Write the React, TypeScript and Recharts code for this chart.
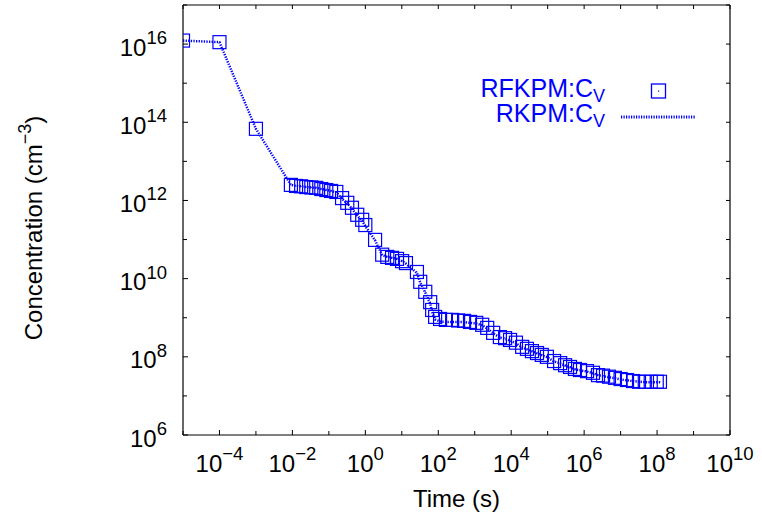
import React from "react"
import {
  ComposedChart,
  Scatter,
  Line,
  XAxis,
  YAxis,
  Legend,
} from "recharts"

const FONT = "'Liberation Sans', Arial, Helvetica, sans-serif"
const BLUE = "#0000ff"

// time steps (s) of the RFKPM / RKPM runs
const times = [
  1e-5, 1e-4, 1e-3, 9.1e-3, 1.26e-2, 1.74e-2, 2.4e-2, 3.3e-2, 4.5e-2, 6.2e-2,
  8.5e-2, 0.115, 0.16, 0.23, 0.32, 0.43, 0.6, 0.82, 1.0, 1.85,
  2.9, 4.0, 5.4, 7.4, 10.2, 13, 26, 32, 44, 60,
  68, 82, 112, 162, 240, 350, 510, 740, 1.1e3, 1.6e3,
  2.2e3, 3.2e3, 4.9e3, 6.8e3, 9.3e3, 1.35e4, 2.0e4, 2.7e4, 3.7e4, 5.1e4,
  6.9e4, 9.5e4, 1.5e5, 2.2e5, 3e5, 4.1e5, 5.6e5, 7.7e5, 1.2e6, 1.75e6,
  2.4e6, 3.3e6, 4.8e6, 7e6, 1.0e7, 1.5e7, 2.2e7, 3.2e7, 4.6e7, 6.7e7,
  9.8e7, 1.2e8,
]

// RFKPM:C_V (squares)
const rfkpmCv = [
  1.23e16, 1.12e16, 6.8e13, 2.5e12, 2.35e12, 2.3e12, 2.2e12, 2.15e12, 2.1e12, 1.96e12,
  1.85e12, 1.75e12, 1.65e12, 1.15e12, 8.7e11, 6.5e11, 4.3e11, 3.2e11, 2.35e11, 9.8e10,
  4.1e10, 3.6e10, 3.4e10, 3.2e10, 2.8e10, 2.5e10, 1.48e10, 8.3e9, 4.6e9, 2.5e9,
  1.58e9, 1.05e9, 9.3e8, 8.8e8, 8.8e8, 8.5e8, 8.3e8, 7.8e8, 7.4e8, 6.6e8,
  5.5e8, 4.1e8, 3.2e8, 3.0e8, 2.7e8, 2.3e8, 1.8e8, 1.6e8, 1.4e8, 1.25e8,
  1.12e8, 1.0e8, 7.8e7, 6.9e7, 6.1e7, 5.5e7, 4.9e7, 4.6e7, 4.3e7, 3.9e7,
  3.4e7, 3.3e7, 3.1e7, 2.9e7, 2.7e7, 2.55e7, 2.4e7, 2.3e7, 2.3e7, 2.3e7,
  2.3e7, 2.3e7,
]

// RKPM:C_V (dotted line)
const rkpmCv = [
  1.23e16, 1.12e16, 6.8e13, 2.5e12, 2.35e12, 2.3e12, 2.2e12, 2.15e12, 2.1e12, 1.96e12,
  1.85e12, 1.75e12, 1.6e12, 1.1e12, 8.3e11, 6.2e11, 4.1e11, 3.0e11, 2.2e11, 9.5e10,
  4.0e10, 3.6e10, 3.4e10, 3.2e10, 2.8e10, 2.4e10, 1.4e10, 8.0e9, 4.4e9, 2.3e9,
  1.4e9, 9.0e8, 8.0e8, 7.8e8, 7.8e8, 7.8e8, 7.7e8, 7.4e8, 7.1e8, 6.4e8,
  5.3e8, 4.0e8, 3.1e8, 2.9e8, 2.6e8, 2.2e8, 1.75e8, 1.55e8, 1.38e8, 1.22e8,
  1.1e8, 9.8e7, 7.6e7, 6.8e7, 6.0e7, 5.4e7, 4.8e7, 4.5e7, 4.2e7, 3.8e7,
  3.4e7, 3.2e7, 3.0e7, 2.85e7, 2.65e7, 2.5e7, 2.4e7, 2.3e7, 2.25e7, 2.25e7,
  2.25e7, 2.25e7,
]

const xTicks = [1e-5, 1e-4, 1e-3, 1e-2, 1e-1, 1, 10, 1e2, 1e3, 1e4, 1e5, 1e6, 1e7, 1e8, 1e9, 1e10]
const yTicks = [1e6, 1e7, 1e8, 1e9, 1e10, 1e11, 1e12, 1e13, 1e14, 1e15, 1e16, 1e17]

const rows = times.map((t, i) => ({ t, rf: rfkpmCv[i], rk: rkpmCv[i] }))

const expOf = (v: number) => Math.round(Math.log10(v))
const expText = (e: number) => (e < 0 ? `\u2212${-e}` : `${e}`)
const labelled = (e: number) => e % 2 === 0

function BottomTick(props: any) {
  const { x, y, payload } = props
  const e = expOf(payload.value)
  const showLabel = labelled(e) && e > -5
  return (
    <g>
      <line x1={x} y1={y} x2={x} y2={y - (showLabel ? 5 : 4)} stroke="#000" strokeWidth={1} />
      {showLabel && (
        <text x={x} y={y + 37} textAnchor="middle" fontFamily={FONT} fontSize={24} fill="#000">
          10
          <tspan fontSize={18.5} dy={-12}>{expText(e)}</tspan>
        </text>
      )}
    </g>
  )
}

function LeftTick(props: any) {
  const { x, y, payload } = props
  const e = expOf(payload.value)
  const showLabel = labelled(e) && e < 17
  return (
    <g>
      <line x1={x} y1={y} x2={x + (showLabel ? 5 : 4)} y2={y} stroke="#000" strokeWidth={1} />
      {showLabel && (
        <text x={x - 16} y={y + 11.5} textAnchor="end" fontFamily={FONT} fontSize={24} fill="#000">
          10
          <tspan fontSize={18.5} dy={-11.5}>{expText(e)}</tspan>
        </text>
      )}
    </g>
  )
}

function TopTick(props: any) {
  const { x, y } = props
  return <line x1={x} y1={y} x2={x} y2={y + 4} stroke="#000" strokeWidth={1} />
}

function RightTick(props: any) {
  const { x, y } = props
  return <line x1={x} y1={y} x2={x - 4} y2={y} stroke="#000" strokeWidth={1} />
}

function Square(props: any) {
  const { cx, cy } = props
  if (cx == null || cy == null) return null
  return (
    <g>
      <rect x={cx - 6.5} y={cy - 6.5} width={13} height={13} fill="none" stroke={BLUE} strokeWidth={1.2} />
      <rect x={cx - 0.5} y={cy - 0.5} width={1} height={1} fill={BLUE} />
    </g>
  )
}

function LegendBox() {
  return (
    <svg width={762} height={140} style={{ display: "block" }}>
      <text x={605} y={97} textAnchor="end" fontFamily={FONT} fontSize={25} fill={BLUE}>
        RFKPM:C
        <tspan fontSize={18} dy={5}>V</tspan>
      </text>
      <rect x={651.5} y={84} width={14} height={14} fill="none" stroke={BLUE} strokeWidth={1.3} />
      <rect x={658} y={90.5} width={1.2} height={1.2} fill={BLUE} />
      <text x={605} y={122} textAnchor="end" fontFamily={FONT} fontSize={25} fill={BLUE}>
        RKPM:C
        <tspan fontSize={18} dy={5}>V</tspan>
      </text>
      <line x1={621} y1={117} x2={696} y2={117} stroke={BLUE} strokeWidth={3} strokeDasharray="1.2 1.3" />
    </svg>
  )
}

function YTitle(props: any) {
  const { viewBox } = props
  const cy = viewBox ? viewBox.y + viewBox.height / 2 + 8 : 228
  return (
    <text
      x={42}
      y={cy}
      transform={`rotate(-90, 42, ${cy})`}
      textAnchor="middle"
      fontFamily={FONT}
      fontSize={24}
      fill="#000"
    >
      Concentration (cm
      <tspan fontSize={18} dy={-11}>{"\u22123"}</tspan>
      <tspan dy={11}>)</tspan>
    </text>
  )
}

function XTitle(props: any) {
  const { viewBox } = props
  const cx = viewBox ? viewBox.x + viewBox.width / 2 : 456
  return (
    <text x={cx} y={507} textAnchor="middle" fontFamily={FONT} fontSize={24} fill="#000">
      Time (s)
    </text>
  )
}

export default function App() {
  return (
    <div style={{ position: "fixed", left: 0, top: 0, width: 762, height: 520, background: "#fff" }}>
      <ComposedChart
        width={762}
        height={520}
        data={rows}
        margin={{ top: 4, right: 31, bottom: 0, left: 0 }}
      >
        <XAxis
          xAxisId="bottom"
          dataKey="t"
          type="number"
          scale="log"
          domain={[1e-5, 1e10]}
          ticks={xTicks}
          interval={0}
          allowDataOverflow
          height={85}
          tickSize={0}
          tickMargin={0}
          tickLine={false}
          axisLine={{ stroke: "#000", strokeWidth: 1.2 }}
          tick={(p: any) => <BottomTick {...p} />}
          label={<XTitle />}
        />
        <XAxis
          xAxisId="top"
          orientation="top"
          dataKey="t"
          type="number"
          scale="log"
          domain={[1e-5, 1e10]}
          ticks={xTicks}
          interval={0}
          allowDataOverflow
          height={1}
          tickSize={0}
          tickMargin={0}
          tickLine={false}
          axisLine={{ stroke: "#000", strokeWidth: 1.2 }}
          tick={(p: any) => <TopTick {...p} />}
        />
        <YAxis
          yAxisId="left"
          type="number"
          scale="log"
          domain={[1e6, 1e17]}
          ticks={yTicks}
          interval={0}
          allowDataOverflow
          width={183}
          tickSize={0}
          tickMargin={0}
          tickLine={false}
          axisLine={{ stroke: "#000", strokeWidth: 1.2 }}
          tick={(p: any) => <LeftTick {...p} />}
          label={<YTitle />}
        />
        <YAxis
          yAxisId="right"
          orientation="right"
          type="number"
          scale="log"
          domain={[1e6, 1e17]}
          ticks={yTicks}
          interval={0}
          allowDataOverflow
          width={1}
          tickSize={0}
          tickMargin={0}
          tickLine={false}
          axisLine={{ stroke: "#000", strokeWidth: 1.2 }}
          tick={(p: any) => <RightTick {...p} />}
        />
        <Line
          xAxisId="bottom"
          yAxisId="left"
          type="linear"
          dataKey="rk"
          name="RKPM:CV"
          stroke={BLUE}
          strokeWidth={2.5}
          strokeDasharray="1.3 1.3"
          dot={false}
          activeDot={false}
          isAnimationActive={false}
        />
        <Scatter
          xAxisId="bottom"
          yAxisId="left"
          dataKey="rf"
          name="RFKPM:CV"
          shape={(p: any) => <Square {...p} />}
          isAnimationActive={false}
        />
        <Legend
          layout="vertical"
          verticalAlign="middle"
          align="center"
          wrapperStyle={{ position: "absolute", left: 0, top: 0, width: 762, height: 140 }}
          content={() => <LegendBox />}
        />
      </ComposedChart>
    </div>
  )
}
